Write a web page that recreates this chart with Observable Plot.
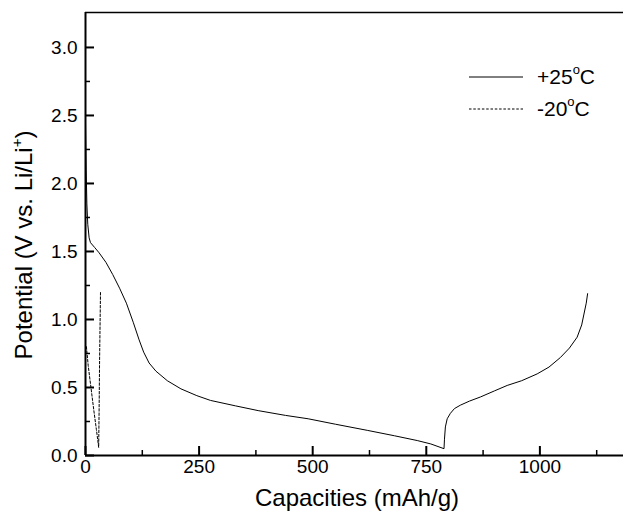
<!DOCTYPE html>
<html><head><meta charset="utf-8">
<script src="https://cdn.jsdelivr.net/npm/d3@7"></script>
<script src="https://cdn.jsdelivr.net/npm/@observablehq/plot@0.6"></script>
<style>body{margin:0;background:#fff;overflow:hidden}</style>
</head><body><div id="chart"></div>
<script>
// +25°C discharge then charge
const cap25 = [0, 1.5, 3, 5, 8, 11, 20, 30, 45, 60, 75, 90, 105, 118, 128, 140, 155, 180, 210, 245, 275, 330, 380, 440, 490, 550, 620, 680, 730, 760, 789,
  790, 792, 796, 803, 812, 825, 845, 869, 900, 928, 960, 994, 1020, 1045, 1065, 1082, 1092, 1097, 1102, 1105];
const pot25 = [2.45, 2.1, 1.85, 1.7, 1.6, 1.565, 1.53, 1.49, 1.42, 1.33, 1.23, 1.12, 0.98, 0.85, 0.76, 0.68, 0.62, 0.55, 0.49, 0.44, 0.405, 0.365, 0.33, 0.295, 0.27, 0.23, 0.185, 0.145, 0.11, 0.085, 0.05,
  0.12, 0.21, 0.27, 0.31, 0.345, 0.37, 0.40, 0.43, 0.475, 0.515, 0.55, 0.60, 0.65, 0.72, 0.79, 0.87, 0.96, 1.04, 1.12, 1.19];
// -20°C
const capM20 = [2, 6, 12, 18, 24, 29, 30, 31, 33];
const potM20 = [0.80, 0.66, 0.50, 0.34, 0.19, 0.06, 0.35, 0.70, 1.20];

const xTicks = [0, 250, 500, 750, 1000];
const xMinor = [125, 375, 625, 875, 1125];
const yTicks = [0, 0.5, 1.0, 1.5, 2.0, 2.5, 3.0];
const yMinor = [0.25, 0.75, 1.25, 1.75, 2.25, 2.75];
const seriesNames = ["+25", "-20"];
const xTitle = "Capacities (mAh/g)";
const yTitle = "Potential (V vs. Li/Li";
const xMax = 1184, yMax = 3.257;

const d25 = cap25.map((c, i) => ({x: c, y: pot25[i]}));
const dM20 = capM20.map((c, i) => ({x: c, y: potM20[i]}));

const W = 623, H = 514, mL = 85, mR = 0, mT = 12, mB = 59;
const fw = W - mL - mR, fh = H - mT - mB;
const font = "'Liberation Sans', Arial, Helvetica, sans-serif";

const plot = Plot.plot({
  width: W, height: H,
  marginLeft: mL, marginRight: mR, marginTop: mT, marginBottom: mB,
  x: {domain: [0, xMax]},
  y: {domain: [0, yMax]},
  style: {fontFamily: font, fontSize: "19px", color: "#000", background: "#fff"},
  marks: [
    Plot.axisX({ticks: xTicks, tickSize: 0, tickPadding: 4, fontSize: 19, tickFormat: d3.format("d"), label: null}),
    Plot.axisY({ticks: yTicks, tickSize: 0, tickPadding: 8, fontSize: 19, tickFormat: d3.format(".1f"), label: null}),
    Plot.ruleX(xTicks, {insetTop: fh - 9, stroke: "#000", strokeWidth: 2}),
    Plot.ruleX(xMinor, {insetTop: fh - 5, stroke: "#000", strokeWidth: 1.5}),
    Plot.ruleY(yTicks, {insetRight: fw - 9, stroke: "#000", strokeWidth: 2}),
    Plot.ruleY(yMinor, {insetRight: fw - 5, stroke: "#000", strokeWidth: 1.5}),
    Plot.ruleY([0], {stroke: "#000", strokeWidth: 2}),
    Plot.ruleX([0], {stroke: "#000", strokeWidth: 2}),
    Plot.ruleY([yMax], {stroke: "#000", strokeWidth: 1.5}),
    Plot.line(d25, {x: "x", y: "y", stroke: "#000", strokeWidth: 1, curve: "linear"}),
    Plot.line(dM20, {x: "x", y: "y", stroke: "#000", strokeWidth: 1, strokeDasharray: "2.5,1.8"})
  ]
});
document.getElementById("chart").append(plot);

const svg = d3.select(plot);
// axis titles
svg.append("text").attr("x", 357).attr("y", 506).attr("text-anchor", "middle")
  .attr("font-family", font).attr("font-size", 24).attr("fill", "#000").text(xTitle);
const yt = svg.append("text").attr("transform", "translate(32,245) rotate(-90)").attr("text-anchor", "middle")
  .attr("font-family", font).attr("font-size", 24).attr("fill", "#000");
yt.append("tspan").text(yTitle);
yt.append("tspan").attr("font-size", 15).attr("dy", -10).text("+");
yt.append("tspan").attr("dy", 10).text(")");

// legend
const leg = [{name: seriesNames[0], dash: null, y: 77}, {name: seriesNames[1], dash: "2.5,1.8", y: 109}];
leg.forEach(l => {
  const ln = svg.append("line").attr("x1", 469).attr("x2", 523).attr("y1", l.y).attr("y2", l.y)
    .attr("stroke", "#000").attr("stroke-width", 1);
  if (l.dash) ln.attr("stroke-dasharray", l.dash);
  const t = svg.append("text").attr("x", 537).attr("y", l.y + 7).attr("text-anchor", "start")
    .attr("font-family", font).attr("font-size", 21).attr("fill", "#000");
  t.append("tspan").text(l.name);
  t.append("tspan").attr("font-size", 13).attr("dy", -10).text("o");
  t.append("tspan").attr("dy", 10).text("C");
});
</script></body></html>
